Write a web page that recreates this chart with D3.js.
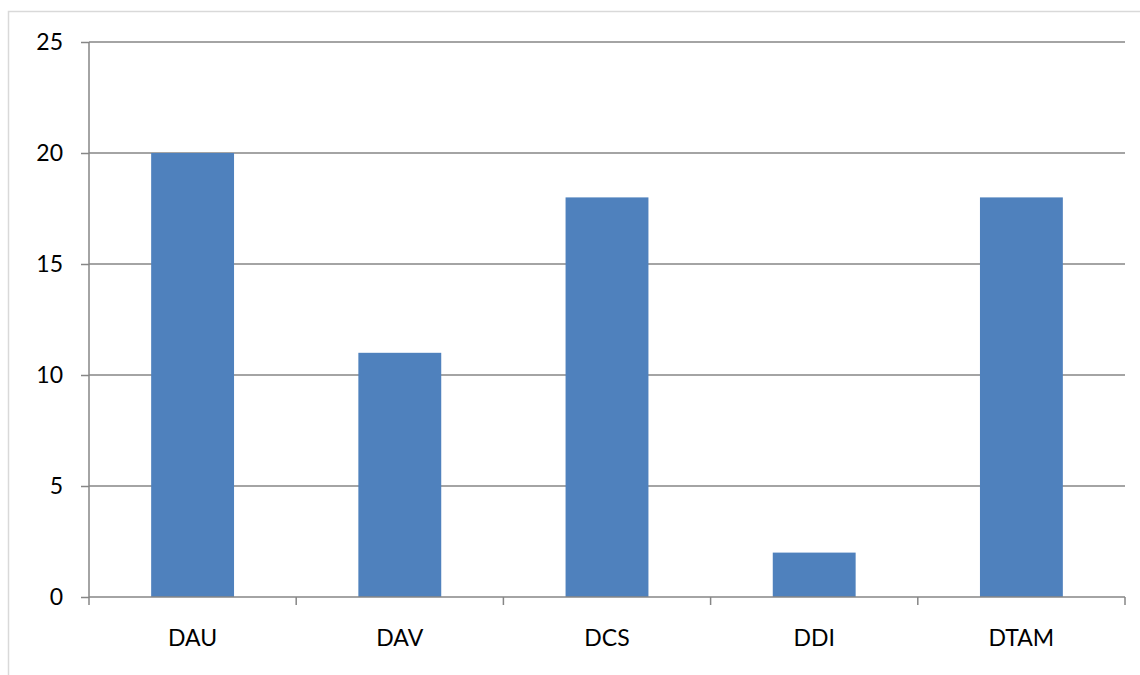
<!DOCTYPE html>
<html>
<head>
<meta charset="utf-8">
<script src="https://cdn.jsdelivr.net/npm/d3@7"></script>
<style>
  body { margin: 0; background: #fff; }
  text { font-family: Lato, "Open Sans", sans-serif; }
</style>
</head>
<body>
<div id="chart"></div>
<script>
const categories = ["DAU", "DAV", "DCS", "DDI", "DTAM"];
const values = [20, 11, 18, 2, 18];
const yTicks = [0, 5, 10, 15, 20, 25];

const W = 1140, H = 675;
const margin = { top: 42, right: 15, bottom: 78, left: 89 },
width = W - margin.left - margin.right,
height = H - margin.top - margin.bottom;

const root = d3.select("#chart").append("svg")
    .attr("width", W)
    .attr("height", H);

// outer chart border
root.append("rect")
    .attr("x", 8.5).attr("y", 11.5)
    .attr("width", W + 20).attr("height", H + 20)
    .attr("fill", "none")
    .attr("stroke", "#d9d9d9")
    .attr("stroke-width", 1.5);

const svg = root.append("g")
    .attr("transform", `translate(${margin.left},${margin.top})`);

const x = d3.scaleBand()
    .domain(categories)
    .range([0, width])
    .paddingInner(0.6)
    .paddingOuter(0.3);

const y = d3.scaleLinear()
    .domain([0, 25])
    .range([height, 0]);

// gridlines
svg.append("g")
    .selectAll("line")
    .data(yTicks.filter(d => d > 0))
    .join("line")
        .attr("x1", 0).attr("x2", width)
        .attr("y1", d => y(d)).attr("y2", d => y(d))
        .attr("stroke", "#868686")
        .attr("stroke-width", 1.5);

// bars
svg.selectAll("rect.bar")
    .data(values)
    .join("rect")
        .attr("class", "bar")
        .attr("x", (d, i) => x(categories[i]))
        .attr("y", d => y(d))
        .attr("width", x.bandwidth())
        .attr("height", d => height - y(d))
        .attr("fill", "#4f81bd");

// y axis
const yAxis = svg.append("g")
    .call(d3.axisLeft(y).tickValues(yTicks).tickSize(8).tickPadding(18));
yAxis.selectAll("line, path").attr("stroke", "#868686").attr("stroke-width", 1.5);
yAxis.select(".domain").attr("d", `M0,0V${height}`);
yAxis.selectAll("text").attr("font-size", 23).attr("fill", "#000")
    .attr("font-family", "Lato, 'Open Sans', sans-serif");

// x axis with ticks at category boundaries
const xAxis = svg.append("g")
    .attr("transform", `translate(0,${height})`);
xAxis.append("line")
    .attr("x1", 0).attr("x2", width)
    .attr("stroke", "#868686").attr("stroke-width", 1.5);
const step = x.step();
xAxis.selectAll("line.tick")
    .data(d3.range(categories.length + 1))
    .join("line")
        .attr("class", "tick")
        .attr("x1", d => x(categories[0]) - x.paddingOuter() * step + d * step)
        .attr("x2", d => x(categories[0]) - x.paddingOuter() * step + d * step)
        .attr("y1", 0).attr("y2", 8)
        .attr("stroke", "#868686").attr("stroke-width", 1.5);
xAxis.selectAll("text")
    .data(categories)
    .join("text")
        .attr("x", d => x(d) + x.bandwidth() / 2)
        .attr("y", 49)
        .attr("text-anchor", "middle")
        .attr("font-size", 23)
        .attr("fill", "#000")
        .text(d => d);
</script>
</body>
</html>
